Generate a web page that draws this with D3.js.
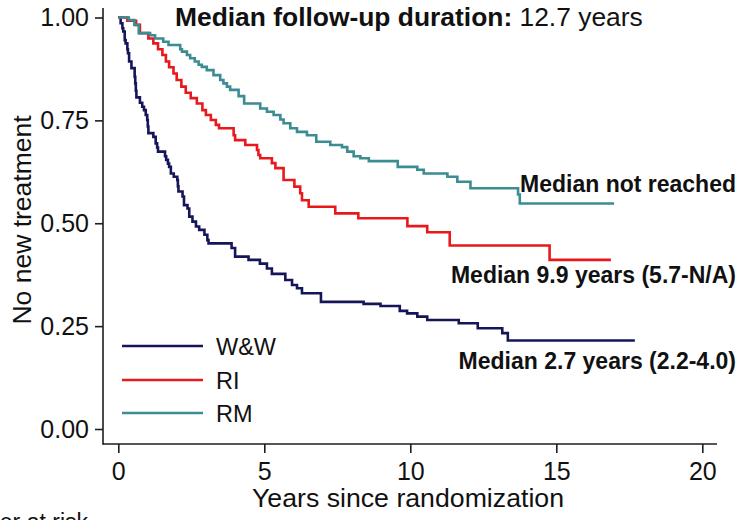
<!DOCTYPE html>
<html>
<head>
<meta charset="utf-8">
<script src="https://cdn.jsdelivr.net/npm/d3@7"></script>
<style>
  html, body { margin: 0; padding: 0; background: #fff; }
  svg { display: block; font-family: "Liberation Sans", Arial, Helvetica, sans-serif; }
</style>
</head>
<body>
<svg id="chart" width="743" height="520"></svg>
<script>
// Kaplan-Meier estimates: time to new treatment by arm
const groups = ["W&W", "RI", "RM"];
const groupColors = ["#15165a", "#e8191c", "#3b8c93"];

const wwTime = [0, 0.08, 0.14, 0.17, 0.22, 0.25, 0.31, 0.33, 0.37, 0.45, 0.56, 0.58, 0.60, 0.62, 0.74, 0.82, 0.88, 0.94, 0.99, 1.01, 1.03, 1.20, 1.28, 1.33, 1.36, 1.60, 1.64, 1.70, 1.74, 1.80, 1.90, 2.02, 2.04, 2.06, 2.20, 2.25, 2.37, 2.43, 2.54, 2.66, 2.77, 2.95, 3.05, 3.09, 3.88, 4.00, 4.46, 4.85, 5.09, 5.26, 5.72, 5.95, 6.12, 6.29, 6.94, 8.40, 8.98, 9.64, 9.89, 10.24, 10.58, 11.66, 12.31, 13.15, 13.34, 17.69];
const wwSurv = [1, 0.986, 0.974, 0.966, 0.945, 0.937, 0.923, 0.913, 0.893, 0.877, 0.856, 0.840, 0.822, 0.806, 0.793, 0.783, 0.775, 0.763, 0.751, 0.735, 0.719, 0.710, 0.694, 0.684, 0.674, 0.663, 0.654, 0.645, 0.637, 0.621, 0.613, 0.605, 0.590, 0.577, 0.565, 0.544, 0.536, 0.516, 0.504, 0.492, 0.484, 0.472, 0.459, 0.451, 0.440, 0.419, 0.411, 0.402, 0.390, 0.377, 0.362, 0.350, 0.342, 0.330, 0.309, 0.304, 0.299, 0.287, 0.281, 0.273, 0.265, 0.257, 0.245, 0.233, 0.215, 0.215];

const riTime = [0, 0.31, 0.61, 0.74, 1.03, 1.20, 1.36, 1.51, 1.63, 1.74, 1.89, 2.00, 2.16, 2.31, 2.48, 2.69, 2.88, 3.00, 3.17, 3.34, 3.45, 3.95, 4.00, 4.35, 4.75, 4.80, 4.86, 5.26, 5.38, 5.66, 6.03, 6.23, 6.29, 6.52, 7.43, 8.22, 9.90, 10.58, 11.35, 14.77, 16.87];
const riSurv = [1, 0.992, 0.982, 0.962, 0.949, 0.937, 0.923, 0.909, 0.893, 0.879, 0.864, 0.848, 0.832, 0.817, 0.804, 0.791, 0.775, 0.763, 0.751, 0.739, 0.731, 0.714, 0.702, 0.690, 0.678, 0.666, 0.658, 0.646, 0.634, 0.605, 0.589, 0.573, 0.556, 0.540, 0.524, 0.512, 0.493, 0.478, 0.446, 0.411, 0.411];

const rmTime = [0, 0.36, 0.55, 0.70, 1.09, 1.26, 1.54, 1.72, 2.12, 2.18, 2.35, 2.46, 2.62, 2.75, 2.86, 3.03, 3.26, 3.49, 3.60, 3.72, 3.83, 4.12, 4.31, 4.86, 5.09, 5.32, 5.55, 5.66, 5.89, 6.12, 6.46, 6.78, 7.26, 7.66, 7.84, 8.06, 8.29, 8.58, 9.57, 10.24, 10.46, 11.27, 11.61, 12.06, 13.69, 13.75, 16.98];
const rmSurv = [1, 0.994, 0.982, 0.962, 0.957, 0.949, 0.941, 0.933, 0.923, 0.917, 0.909, 0.901, 0.893, 0.885, 0.880, 0.872, 0.860, 0.848, 0.840, 0.832, 0.824, 0.809, 0.791, 0.779, 0.771, 0.763, 0.752, 0.743, 0.731, 0.722, 0.714, 0.698, 0.690, 0.685, 0.674, 0.663, 0.658, 0.651, 0.637, 0.630, 0.621, 0.613, 0.601, 0.585, 0.570, 0.548, 0.548];

const xTicks = [0, 5, 10, 15, 20];
const yTicks = [0, 0.25, 0.5, 0.75, 1];
const yTickLabels = ["0.00", "0.25", "0.50", "0.75", "1.00"];

const medianNotes = ["Median not reached", "Median 9.9 years (5.7-N/A)", "Median 2.7 years (2.2-4.0)"];
const medianNoteY = [0.575, 0.355, 0.145];

const titleBold = "Median follow-up duration:";
const titleRest = " 12.7 years";
const xTitle = "Years since randomization";
const yTitle = "No new treatment";
const riskTitle = "Number at risk";

const series = [
  { name: groups[0], time: wwTime, surv: wwSurv, color: groupColors[0] },
  { name: groups[1], time: riTime, surv: riSurv, color: groupColors[1] },
  { name: groups[2], time: rmTime, surv: rmSurv, color: groupColors[2] }
];

const svg = d3.select("#chart");
const x = d3.scaleLinear().domain([0, 20]).range([118.3, 702.3]);
const y = d3.scaleLinear().domain([0, 1]).range([429, 17.5]);

const axisColor = "#1e1e1e";
const plotLeft = 103, plotRight = 717, plotTop = 8, plotBottom = 444;

// axis lines
svg.append("line").attr("x1", plotLeft).attr("x2", plotLeft)
  .attr("y1", plotTop).attr("y2", plotBottom + 0.5)
  .attr("stroke", axisColor).attr("stroke-width", 1.6);
svg.append("line").attr("x1", plotLeft - 0.5).attr("x2", plotRight)
  .attr("y1", plotBottom).attr("y2", plotBottom)
  .attr("stroke", axisColor).attr("stroke-width", 1.6);

// y axis
const yAxis = d3.axisLeft(y).tickValues(yTicks)
  .tickFormat((d, i) => yTickLabels[i]).tickSize(8).tickPadding(6);
const gy = svg.append("g").attr("transform", `translate(${plotLeft},0)`).call(yAxis);
gy.select(".domain").remove();
gy.selectAll(".tick line").attr("stroke", axisColor).attr("stroke-width", 1.6);
gy.selectAll(".tick text").attr("font-size", 25).attr("fill", "#111")
  .attr("font-family", "'Liberation Sans', Arial, sans-serif");

// x axis
const xAxis = d3.axisBottom(x).tickValues(xTicks).tickSize(9).tickPadding(9);
const gx = svg.append("g").attr("transform", `translate(0,${plotBottom})`).call(xAxis);
gx.select(".domain").remove();
gx.selectAll(".tick line").attr("stroke", axisColor).attr("stroke-width", 1.6);
gx.selectAll(".tick text").attr("font-size", 25).attr("fill", "#111")
  .attr("font-family", "'Liberation Sans', Arial, sans-serif");

// axis titles
svg.append("text").attr("x", 408).attr("y", 507).attr("text-anchor", "middle")
  .attr("font-size", 26.7).attr("fill", "#111").text(xTitle);
svg.append("text").attr("transform", "translate(31,220) rotate(-90)")
  .attr("text-anchor", "middle").attr("font-size", 26.5).attr("fill", "#111").text(yTitle);

// survival step curves
const line = d3.line()
  .x(d => x(d[0]))
  .y(d => y(d[1]))
  .curve(d3.curveStepAfter);

series.forEach(s => {
  const pts = s.time.map((t, i) => [t, s.surv[i]]);
  svg.append("path").datum(pts)
    .attr("d", line)
    .attr("fill", "none")
    .attr("stroke", s.color)
    .attr("stroke-width", 2.6)
    .attr("stroke-linejoin", "miter");
});

// median annotations
medianNotes.forEach((t, i) => {
  svg.append("text").attr("x", 736).attr("y", y(medianNoteY[i]))
    .attr("text-anchor", "end").attr("font-weight", "bold")
    .attr("font-size", 23).attr("fill", "#111").text(t);
});

// title
const title = svg.append("text").attr("x", 175).attr("y", 26)
  .attr("font-size", 26.4).attr("fill", "#111");
title.append("tspan").attr("font-weight", "bold").text(titleBold);
title.append("tspan").text(titleRest);

// legend
const legendY = [346, 380, 413];
series.forEach((s, i) => {
  svg.append("line").attr("x1", 122).attr("x2", 203)
    .attr("y1", legendY[i]).attr("y2", legendY[i])
    .attr("stroke", s.color).attr("stroke-width", 2.6);
  svg.append("text").attr("x", 216).attr("y", legendY[i] + 8.5)
    .attr("font-size", 23.5).attr("fill", "#111").text(s.name);
});

// risk table heading, continuing below the bottom edge
svg.append("text").attr("x", 88).attr("y", 530).attr("text-anchor", "end")
  .attr("font-size", 23).attr("fill", "#111").text(riskTitle);
</script>
</body>
</html>
